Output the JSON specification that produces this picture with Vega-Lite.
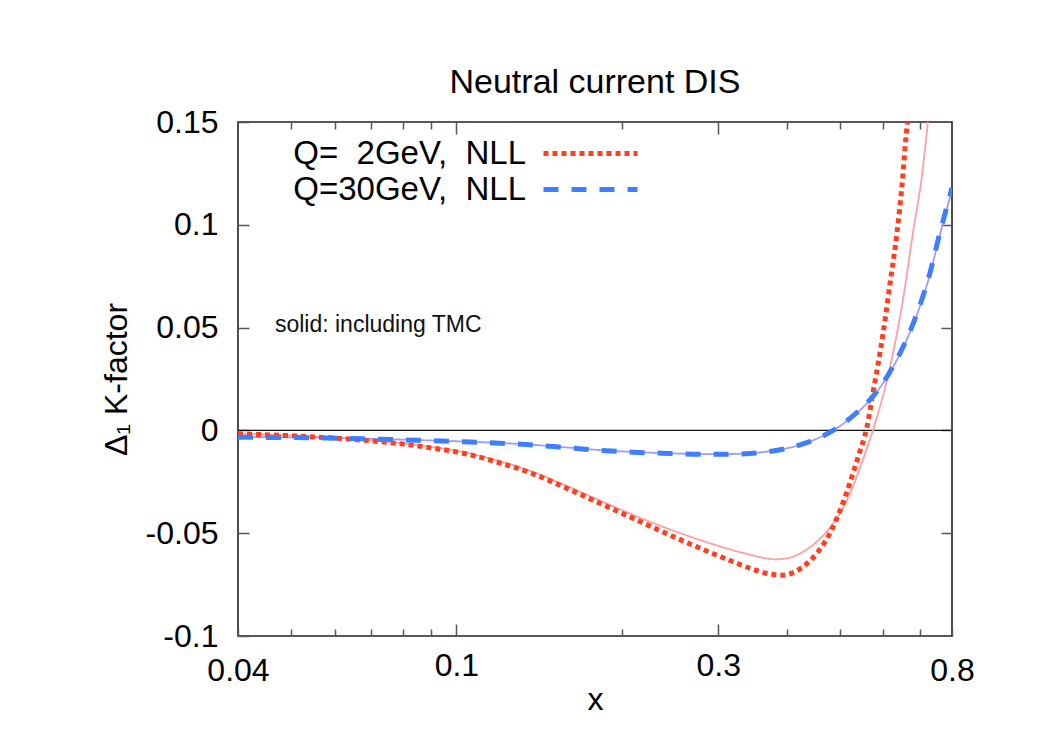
{
  "$schema": "https://vega.github.io/schema/vega-lite/v6.json",
  "width": 714,
  "height": 514,
  "autosize": {"type": "none"},
  "padding": {"left": 238, "top": 122, "right": 96, "bottom": 98},
  "background": "white",
  "title": {
    "text": "Neutral current DIS",
    "font": "Liberation Sans",
    "fontSize": 34,
    "fontWeight": "normal",
    "color": "black",
    "offset": 6
  },
  "config": {
    "font": "Liberation Sans",
    "view": {"stroke": "#222", "strokeWidth": 1.6},
    "axis": {
      "grid": false,
      "domain": false,
      "labelFont": "Liberation Sans",
      "labelFontSize": 32,
      "labelColor": "black",
      "labelFlush": false,
      "labelOverlap": false,
      "tickColor": "#555",
      "tickWidth": 1.5,
      "titleFont": "Liberation Sans",
      "titleFontSize": 32,
      "titleFontWeight": "normal",
      "titleColor": "black"
    },
    "legend": {
      "orient": "none",
      "legendX": 334,
      "legendY": 13,
      "symbolType": "M-3,0H3",
      "symbolSize": 982,
      "symbolStrokeWidth": 5,
      "symbolFillColor": "transparent",
      "rowPadding": 0,
      "labelFont": "Liberation Sans",
      "labelFontSize": 33,
      "labelColor": "black",
      "labelAlign": "right",
      "labelOffset": -83,
      "labelLimit": 400
    }
  },
  "datasets": {
    "curves": [
      {"series": "Q=  2GeV, TMC", "x": 0.04, "k": -0.0015},
      {"series": "Q=  2GeV, TMC", "x": 0.05, "k": -0.0024},
      {"series": "Q=  2GeV, TMC", "x": 0.0588, "k": -0.0034},
      {"series": "Q=  2GeV, TMC", "x": 0.068, "k": -0.0046},
      {"series": "Q=  2GeV, TMC", "x": 0.078, "k": -0.006},
      {"series": "Q=  2GeV, TMC", "x": 0.09, "k": -0.0081},
      {"series": "Q=  2GeV, TMC", "x": 0.1028, "k": -0.0105},
      {"series": "Q=  2GeV, TMC", "x": 0.12, "k": -0.015},
      {"series": "Q=  2GeV, TMC", "x": 0.136, "k": -0.0196},
      {"series": "Q=  2GeV, TMC", "x": 0.159, "k": -0.027},
      {"series": "Q=  2GeV, TMC", "x": 0.183, "k": -0.0342},
      {"series": "Q=  2GeV, TMC", "x": 0.21, "k": -0.0411},
      {"series": "Q=  2GeV, TMC", "x": 0.243, "k": -0.0478},
      {"series": "Q=  2GeV, TMC", "x": 0.278, "k": -0.0533},
      {"series": "Q=  2GeV, TMC", "x": 0.31, "k": -0.0573},
      {"series": "Q=  2GeV, TMC", "x": 0.343, "k": -0.0605},
      {"series": "Q=  2GeV, TMC", "x": 0.36, "k": -0.0618},
      {"series": "Q=  2GeV, TMC", "x": 0.38, "k": -0.0627},
      {"series": "Q=  2GeV, TMC", "x": 0.4, "k": -0.0622},
      {"series": "Q=  2GeV, TMC", "x": 0.423, "k": -0.0598},
      {"series": "Q=  2GeV, TMC", "x": 0.454, "k": -0.054},
      {"series": "Q=  2GeV, TMC", "x": 0.486, "k": -0.0452},
      {"series": "Q=  2GeV, TMC", "x": 0.521, "k": -0.031},
      {"series": "Q=  2GeV, TMC", "x": 0.549, "k": -0.015},
      {"series": "Q=  2GeV, TMC", "x": 0.574, "k": 0.0},
      {"series": "Q=  2GeV, TMC", "x": 0.617, "k": 0.031},
      {"series": "Q=  2GeV, TMC", "x": 0.651, "k": 0.0634},
      {"series": "Q=  2GeV, TMC", "x": 0.679, "k": 0.096},
      {"series": "Q=  2GeV, TMC", "x": 0.706, "k": 0.125},
      {"series": "Q=  2GeV, TMC", "x": 0.723, "k": 0.15},

      {"series": "Q=30GeV, TMC", "x": 0.04, "k": -0.0032},
      {"series": "Q=30GeV, TMC", "x": 0.05, "k": -0.0034},
      {"series": "Q=30GeV, TMC", "x": 0.0588, "k": -0.0036},
      {"series": "Q=30GeV, TMC", "x": 0.068, "k": -0.004},
      {"series": "Q=30GeV, TMC", "x": 0.078, "k": -0.0044},
      {"series": "Q=30GeV, TMC", "x": 0.09, "k": -0.0049},
      {"series": "Q=30GeV, TMC", "x": 0.1028, "k": -0.0054},
      {"series": "Q=30GeV, TMC", "x": 0.12, "k": -0.0061},
      {"series": "Q=30GeV, TMC", "x": 0.136, "k": -0.0069},
      {"series": "Q=30GeV, TMC", "x": 0.159, "k": -0.0083},
      {"series": "Q=30GeV, TMC", "x": 0.183, "k": -0.0096},
      {"series": "Q=30GeV, TMC", "x": 0.21, "k": -0.0105},
      {"series": "Q=30GeV, TMC", "x": 0.243, "k": -0.0111},
      {"series": "Q=30GeV, TMC", "x": 0.278, "k": -0.0115},
      {"series": "Q=30GeV, TMC", "x": 0.31, "k": -0.0115},
      {"series": "Q=30GeV, TMC", "x": 0.343, "k": -0.0111},
      {"series": "Q=30GeV, TMC", "x": 0.368, "k": -0.0103},
      {"series": "Q=30GeV, TMC", "x": 0.4, "k": -0.0087},
      {"series": "Q=30GeV, TMC", "x": 0.423, "k": -0.007},
      {"series": "Q=30GeV, TMC", "x": 0.454, "k": -0.004},
      {"series": "Q=30GeV, TMC", "x": 0.486, "k": 0.0},
      {"series": "Q=30GeV, TMC", "x": 0.521, "k": 0.0057},
      {"series": "Q=30GeV, TMC", "x": 0.56, "k": 0.0132},
      {"series": "Q=30GeV, TMC", "x": 0.609, "k": 0.0259},
      {"series": "Q=30GeV, TMC", "x": 0.643, "k": 0.0372},
      {"series": "Q=30GeV, TMC", "x": 0.691, "k": 0.0565},
      {"series": "Q=30GeV, TMC", "x": 0.729, "k": 0.0757},
      {"series": "Q=30GeV, TMC", "x": 0.76, "k": 0.095},
      {"series": "Q=30GeV, TMC", "x": 0.783, "k": 0.1078},
      {"series": "Q=30GeV, TMC", "x": 0.8, "k": 0.117},

      {"series": "Q=  2GeV,  NLL", "x": 0.04, "k": -0.0017},
      {"series": "Q=  2GeV,  NLL", "x": 0.05, "k": -0.0026},
      {"series": "Q=  2GeV,  NLL", "x": 0.0588, "k": -0.0036},
      {"series": "Q=  2GeV,  NLL", "x": 0.068, "k": -0.0048},
      {"series": "Q=  2GeV,  NLL", "x": 0.078, "k": -0.0063},
      {"series": "Q=  2GeV,  NLL", "x": 0.09, "k": -0.0085},
      {"series": "Q=  2GeV,  NLL", "x": 0.1028, "k": -0.0111},
      {"series": "Q=  2GeV,  NLL", "x": 0.12, "k": -0.0158},
      {"series": "Q=  2GeV,  NLL", "x": 0.136, "k": -0.0205},
      {"series": "Q=  2GeV,  NLL", "x": 0.159, "k": -0.0282},
      {"series": "Q=  2GeV,  NLL", "x": 0.183, "k": -0.0356},
      {"series": "Q=  2GeV,  NLL", "x": 0.21, "k": -0.0428},
      {"series": "Q=  2GeV,  NLL", "x": 0.243, "k": -0.0505},
      {"series": "Q=  2GeV,  NLL", "x": 0.278, "k": -0.0573},
      {"series": "Q=  2GeV,  NLL", "x": 0.31, "k": -0.0625},
      {"series": "Q=  2GeV,  NLL", "x": 0.343, "k": -0.0671},
      {"series": "Q=  2GeV,  NLL", "x": 0.37, "k": -0.0697},
      {"series": "Q=  2GeV,  NLL", "x": 0.392, "k": -0.0704},
      {"series": "Q=  2GeV,  NLL", "x": 0.41, "k": -0.0693},
      {"series": "Q=  2GeV,  NLL", "x": 0.43, "k": -0.066},
      {"series": "Q=  2GeV,  NLL", "x": 0.454, "k": -0.0597},
      {"series": "Q=  2GeV,  NLL", "x": 0.47, "k": -0.054},
      {"series": "Q=  2GeV,  NLL", "x": 0.486, "k": -0.0468},
      {"series": "Q=  2GeV,  NLL", "x": 0.5, "k": -0.039},
      {"series": "Q=  2GeV,  NLL", "x": 0.521, "k": -0.0257},
      {"series": "Q=  2GeV,  NLL", "x": 0.54, "k": -0.0125},
      {"series": "Q=  2GeV,  NLL", "x": 0.56, "k": 0.0018},
      {"series": "Q=  2GeV,  NLL", "x": 0.574, "k": 0.018},
      {"series": "Q=  2GeV,  NLL", "x": 0.599, "k": 0.047},
      {"series": "Q=  2GeV,  NLL", "x": 0.617, "k": 0.0716},
      {"series": "Q=  2GeV,  NLL", "x": 0.635, "k": 0.096},
      {"series": "Q=  2GeV,  NLL", "x": 0.649, "k": 0.12},
      {"series": "Q=  2GeV,  NLL", "x": 0.662, "k": 0.147},
      {"series": "Q=  2GeV,  NLL", "x": 0.664, "k": 0.15},

      {"series": "Q=30GeV,  NLL", "x": 0.04, "k": -0.0033},
      {"series": "Q=30GeV,  NLL", "x": 0.05, "k": -0.0035},
      {"series": "Q=30GeV,  NLL", "x": 0.0588, "k": -0.0037},
      {"series": "Q=30GeV,  NLL", "x": 0.068, "k": -0.0041},
      {"series": "Q=30GeV,  NLL", "x": 0.078, "k": -0.0045},
      {"series": "Q=30GeV,  NLL", "x": 0.09, "k": -0.005},
      {"series": "Q=30GeV,  NLL", "x": 0.1028, "k": -0.0055},
      {"series": "Q=30GeV,  NLL", "x": 0.12, "k": -0.0062},
      {"series": "Q=30GeV,  NLL", "x": 0.136, "k": -0.007},
      {"series": "Q=30GeV,  NLL", "x": 0.159, "k": -0.0084},
      {"series": "Q=30GeV,  NLL", "x": 0.183, "k": -0.0097},
      {"series": "Q=30GeV,  NLL", "x": 0.21, "k": -0.0106},
      {"series": "Q=30GeV,  NLL", "x": 0.243, "k": -0.0112},
      {"series": "Q=30GeV,  NLL", "x": 0.278, "k": -0.0116},
      {"series": "Q=30GeV,  NLL", "x": 0.31, "k": -0.0116},
      {"series": "Q=30GeV,  NLL", "x": 0.343, "k": -0.0112},
      {"series": "Q=30GeV,  NLL", "x": 0.368, "k": -0.0104},
      {"series": "Q=30GeV,  NLL", "x": 0.4, "k": -0.0088},
      {"series": "Q=30GeV,  NLL", "x": 0.423, "k": -0.007},
      {"series": "Q=30GeV,  NLL", "x": 0.454, "k": -0.004},
      {"series": "Q=30GeV,  NLL", "x": 0.486, "k": 0.0},
      {"series": "Q=30GeV,  NLL", "x": 0.521, "k": 0.0058},
      {"series": "Q=30GeV,  NLL", "x": 0.56, "k": 0.0133},
      {"series": "Q=30GeV,  NLL", "x": 0.609, "k": 0.0261},
      {"series": "Q=30GeV,  NLL", "x": 0.643, "k": 0.0375},
      {"series": "Q=30GeV,  NLL", "x": 0.691, "k": 0.057},
      {"series": "Q=30GeV,  NLL", "x": 0.729, "k": 0.0764},
      {"series": "Q=30GeV,  NLL", "x": 0.76, "k": 0.0959},
      {"series": "Q=30GeV,  NLL", "x": 0.783, "k": 0.1088},
      {"series": "Q=30GeV,  NLL", "x": 0.8, "k": 0.118}
    ]
  },
  "layer": [
    {
      "data": {"values": [{"lo": 0.04, "hi": 0.8, "level": 0}]},
      "mark": {"type": "rule", "color": "#111", "strokeWidth": 1.2},
      "encoding": {
        "x": {
          "field": "lo",
          "type": "quantitative",
          "scale": {"type": "log", "domain": [0.04, 0.8], "nice": false},
          "axis": null
        },
        "x2": {"field": "hi"},
        "y": {
          "field": "level",
          "type": "quantitative",
          "scale": {"domain": [-0.1, 0.15], "nice": false, "zero": false},
          "axis": null
        }
      }
    },
    {
      "data": {"name": "curves"},
      "transform": [{"filter": "indexof(datum.series, 'TMC') >= 0"}],
      "mark": {"type": "line", "clip": true, "interpolate": "monotone", "strokeCap": "butt", "strokeWidth": 1.8},
      "encoding": {
        "x": {
          "field": "x",
          "type": "quantitative",
          "scale": {"type": "log", "domain": [0.04, 0.8], "nice": false},
          "axis": {
            "orient": "top",
            "values": [0.05, 0.06, 0.07, 0.08, 0.09, 0.1, 0.2, 0.3, 0.4, 0.5, 0.6, 0.7],
            "labels": false,
            "title": null,
            "tickSize": {"condition": {"test": "datum.value == 0.1 || datum.value == 0.3", "value": -12}, "value": -7}
          }
        },
        "y": {
          "field": "k",
          "type": "quantitative",
          "scale": {"domain": [-0.1, 0.15], "nice": false, "zero": false},
          "axis": {
            "orient": "right",
            "values": [-0.05, 0, 0.05, 0.1],
            "labels": false,
            "title": null,
            "tickSize": -11
          }
        },
        "color": {
          "field": "series",
          "type": "nominal",
          "scale": {
            "domain": ["Q=  2GeV,  NLL", "Q=30GeV,  NLL", "Q=  2GeV, TMC", "Q=30GeV, TMC"],
            "range": ["#ff3f1f", "#3f7fff", "#ff9f9f", "#9c9cff"]
          },
          "legend": {
            "values": ["Q=  2GeV,  NLL", "Q=30GeV,  NLL"],
            "labelExpr": "replace(replace(datum.label, '  ', '\u00a0\u00a0'), '  ', '\u00a0\u00a0')",
            "title": null
          }
        },
        "strokeDash": {
          "field": "series",
          "type": "nominal",
          "scale": {
            "domain": ["Q=  2GeV,  NLL", "Q=30GeV,  NLL", "Q=  2GeV, TMC", "Q=30GeV, TMC"],
            "range": [[5, 4], [15, 13], [1, 0], [1, 0]]
          },
          "legend": {
            "values": ["Q=  2GeV,  NLL", "Q=30GeV,  NLL"],
            "labelExpr": "replace(replace(datum.label, '  ', '\u00a0\u00a0'), '  ', '\u00a0\u00a0')",
            "title": null
          }
        }
      }
    },
    {
      "data": {"name": "curves"},
      "transform": [{"filter": "indexof(datum.series, 'NLL') >= 0"}],
      "mark": {"type": "line", "clip": true, "interpolate": "monotone", "strokeCap": "butt", "strokeWidth": 5},
      "encoding": {
        "x": {
          "field": "x",
          "type": "quantitative",
          "scale": {"type": "log", "domain": [0.04, 0.8], "nice": false},
          "axis": {
            "orient": "bottom",
            "values": [0.04, 0.05, 0.06, 0.07, 0.08, 0.09, 0.1, 0.2, 0.3, 0.4, 0.5, 0.6, 0.7, 0.8],
            "labelExpr": "indexof([0.04, 0.1, 0.3, 0.8], datum.value) >= 0 ? toString(datum.value) : ''",
            "tickSize": {"condition": {"test": "datum.value == 0.1 || datum.value == 0.3", "value": -12}, "value": -7},
            "labelPadding": 26,
            "title": "x",
            "titlePadding": -2
          }
        },
        "y": {
          "field": "k",
          "type": "quantitative",
          "scale": {"domain": [-0.1, 0.15], "nice": false, "zero": false},
          "axis": {
            "orient": "left",
            "values": [-0.1, -0.05, 0, 0.05, 0.1, 0.15],
            "labelExpr": "toString(datum.value)",
            "tickSize": -11,
            "labelPadding": 31,
            "title": "Δ₁ K-factor",
            "titlePadding": 12
          }
        },
        "color": {
          "field": "series",
          "type": "nominal",
          "scale": {
            "domain": ["Q=  2GeV,  NLL", "Q=30GeV,  NLL", "Q=  2GeV, TMC", "Q=30GeV, TMC"],
            "range": ["#ff3f1f", "#3f7fff", "#ff9f9f", "#9c9cff"]
          },
          "legend": {
            "values": ["Q=  2GeV,  NLL", "Q=30GeV,  NLL"],
            "labelExpr": "replace(replace(datum.label, '  ', '\u00a0\u00a0'), '  ', '\u00a0\u00a0')",
            "title": null
          }
        },
        "strokeDash": {
          "field": "series",
          "type": "nominal",
          "scale": {
            "domain": ["Q=  2GeV,  NLL", "Q=30GeV,  NLL", "Q=  2GeV, TMC", "Q=30GeV, TMC"],
            "range": [[5, 4], [15, 13], [1, 0], [1, 0]]
          },
          "legend": {
            "values": ["Q=  2GeV,  NLL", "Q=30GeV,  NLL"],
            "labelExpr": "replace(replace(datum.label, '  ', '\u00a0\u00a0'), '  ', '\u00a0\u00a0')",
            "title": null
          }
        }
      }
    },
    {
      "data": {"values": [{}]},
      "mark": {"type": "text", "align": "left", "baseline": "middle", "fontSize": 23, "font": "Liberation Sans", "color": "#111"},
      "encoding": {
        "x": {"datum": 0.0467, "type": "quantitative", "axis": null},
        "y": {"datum": 0.0513, "type": "quantitative", "axis": null},
        "text": {"value": "solid: including TMC"}
      }
    }
  ],
  "resolve": {"axis": {"x": "independent", "y": "independent"}}
}
